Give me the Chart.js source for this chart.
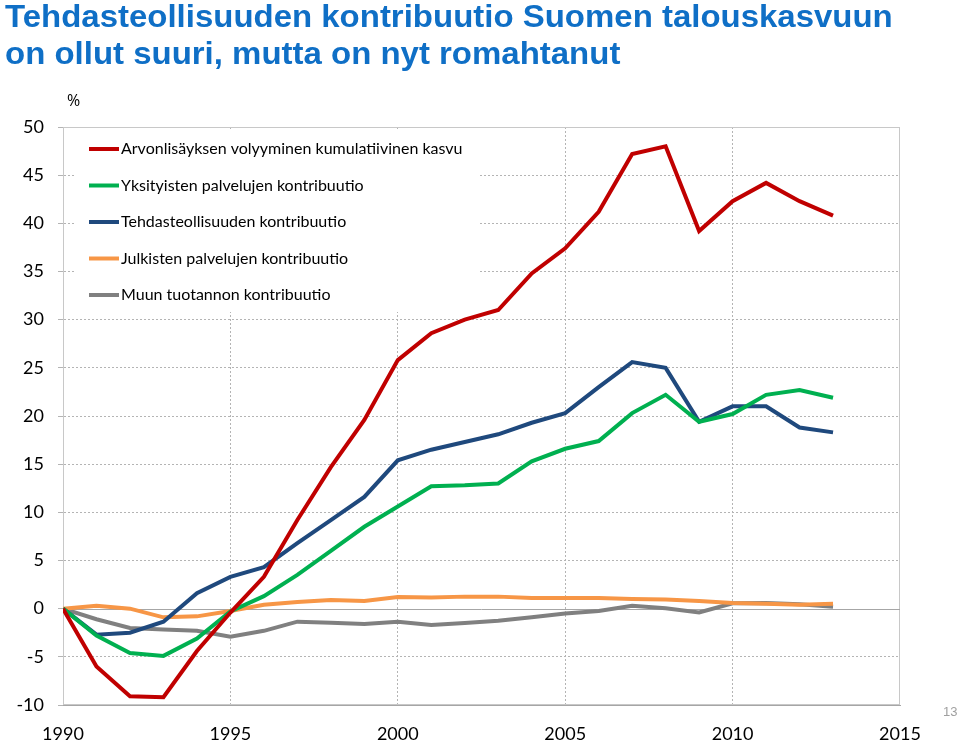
<!DOCTYPE html>
<html lang="fi">
<head>
    <meta charset="UTF-8">
    <title>Tehdasteollisuuden kontribuutio</title>
    <script src="https://cdn.jsdelivr.net/npm/chart.js"></script>
</head>
<style>
    body { margin: 0; background: #fff; }
    .page { position: relative; width: 960px; height: 741px; overflow: hidden; }
    .chart-container { position: absolute; left: 0; top: 0; width: 960px; height: 741px; }
    .title {
        position: absolute; left: 5px; top: -2px;
        font-family: "Liberation Sans", Arial, sans-serif; font-weight: bold;
        font-size: 31px; line-height: 37px; color: #0f6fc6;
        transform-origin: 0 0; white-space: nowrap;
    }
    .unit { position: absolute; left: 67px; top: 89px; font-family: "Open Sans", sans-serif; font-size: 16px; color: #000; }
    .pagenum { position: absolute; left: 943px; top: 704px; font-family: "Liberation Sans", Arial, sans-serif; font-size: 13px; color: #a0a0a0; }
</style>
<body>
    <div class="page">
        <div class="chart-container">
            <canvas id="lineChart"></canvas>
        </div>
        <div class="title" id="title">Tehdasteollisuuden kontribuutio Suomen talouskasvuun<br>on ollut suuri, mutta on nyt romahtanut</div>
        <div class="unit">%</div>
        <div class="pagenum">13</div>
    </div>

    <script>
        // vuodet
        const years = [1990, 1991, 1992, 1993, 1994, 1995, 1996, 1997, 1998, 1999, 2000, 2001,
                       2002, 2003, 2004, 2005, 2006, 2007, 2008, 2009, 2010, 2011, 2012, 2013];

        const seriesLabels = [
            'Arvonlisäyksen volyyminen kumulatiivinen kasvu',
            'Yksityisten palvelujen kontribuutio',
            'Tehdasteollisuuden kontribuutio',
            'Julkisten palvelujen kontribuutio',
            'Muun tuotannon kontribuutio'
        ];

        const arvonlisays = [0, -6.0, -9.1, -9.2, -4.4, -0.4, 3.3, 9.2, 14.7, 19.6, 25.8, 28.6,
                             30.0, 31.0, 34.8, 37.4, 41.2, 47.2, 48.0, 39.2, 42.3, 44.2, 42.3, 40.8];
        const yksityiset = [0, -2.8, -4.6, -4.9, -3.1, -0.3, 1.3, 3.5, 6.0, 8.5, 10.6, 12.7,
                            12.8, 13.0, 15.3, 16.6, 17.4, 20.3, 22.2, 19.4, 20.2, 22.2, 22.7, 21.9];
        const tehdas = [0, -2.7, -2.5, -1.35, 1.6, 3.3, 4.3, 6.8, 9.2, 11.6, 15.4, 16.5,
                        17.3, 18.1, 19.3, 20.3, 23.0, 25.6, 25.0, 19.4, 21.0, 21.0, 18.8, 18.3];
        const julkiset = [0, 0.3, 0.0, -0.9, -0.8, -0.25, 0.4, 0.7, 0.9, 0.8, 1.2, 1.15,
                          1.25, 1.25, 1.1, 1.1, 1.1, 1.0, 0.95, 0.8, 0.6, 0.5, 0.4, 0.5];
        const muu = [0, -1.1, -2.0, -2.15, -2.3, -2.9, -2.3, -1.35, -1.45, -1.6, -1.35, -1.7,
                     -1.5, -1.25, -0.9, -0.5, -0.25, 0.3, 0.05, -0.4, 0.55, 0.6, 0.45, 0.2];

        const yTicks = [-10, -5, 0, 5, 10, 15, 20, 25, 30, 35, 40, 45, 50];
        const xTicks = [1990, 1995, 2000, 2005, 2010, 2015];

        const colors = ['#c00000', '#00b050', '#1f497d', '#f79646', '#808080'];

        // otsikon leveys kuvan mukaan
        const titleEl = document.getElementById('title');
        titleEl.style.transform = 'scaleX(' + (888 / titleEl.scrollWidth) + ')';

        const allSeries = [arvonlisays, yksityiset, tehdas, julkiset, muu];
        const datasets = allSeries.map((vals, i) => ({
            label: seriesLabels[i],
            data: years.map((y, j) => ({x: y, y: vals[j]})),
            borderColor: colors[i],
            backgroundColor: colors[i],
            borderWidth: 4,
            pointRadius: 0,
            tension: 0,
            fill: false,
            order: i // punainen päällimmäisenä
        }));

        // kehys, nollaviiva ja selite kaavioalueen sisällä
        const insideLegend = {
            id: 'insideLegend',
            beforeDatasetsDraw(chart) {
                const {ctx, chartArea: a, scales} = chart;
                ctx.save();
                // valkoinen selitelaatikko
                ctx.fillStyle = '#fff';
                ctx.fillRect(a.left + 13, a.top + 3, 403, 182);
                // kehys
                ctx.strokeStyle = '#c8c8c8';
                ctx.lineWidth = 1;
                ctx.strokeRect(a.left + 0.5, a.top + 0.5, a.width - 1, a.height - 1);
                // nollaviiva
                const y0 = Math.round(scales.y.getPixelForValue(0)) + 0.5;
                ctx.strokeStyle = '#a6a6a6';
                ctx.beginPath();
                ctx.moveTo(a.left, y0);
                ctx.lineTo(a.right, y0);
                ctx.stroke();
                // selite
                ctx.font = '16px Lato, "Open Sans", sans-serif';
                ctx.textBaseline = 'middle';
                chart.data.datasets.forEach((ds, i) => {
                    const cy = a.top + 22 + i * 36.5;
                    ctx.strokeStyle = ds.borderColor;
                    ctx.lineWidth = 4;
                    ctx.beginPath();
                    ctx.moveTo(a.left + 26, cy);
                    ctx.lineTo(a.left + 56, cy);
                    ctx.stroke();
                    ctx.fillStyle = '#000';
                    ctx.fillText(ds.label, a.left + 58, cy);
                });
                ctx.restore();
            }
        };

        const ctx = document.getElementById('lineChart').getContext('2d');
        new Chart(ctx, {
            type: 'line',
            data: { datasets: datasets },
            options: {
                responsive: true,
                maintainAspectRatio: false,
                animation: false,
                layout: { padding: { top: 127, right: 60, left: 0, bottom: 0 } },
                plugins: {
                    legend: { display: false },
                    tooltip: { enabled: false }
                },
                scales: {
                    x: {
                        type: 'linear',
                        min: 1990,
                        max: 2015,
                        afterBuildTicks: (scale) => { scale.ticks = xTicks.map(v => ({value: v})); },
                        afterFit: (scale) => { scale.height = 36; },
                        ticks: {
                            color: '#000',
                            font: { family: 'Lato, "Open Sans", sans-serif', size: 18 },
                            padding: 18,
                            maxRotation: 0,
                            callback: (v) => String(v)
                        },
                        grid: {
                            color: (c) => (c.tick && (c.tick.value === 1990 || c.tick.value === 2015)) ? 'rgba(0,0,0,0)' : '#b4b4b4',
                            lineWidth: 1,
                            drawTicks: false
                        },
                        border: { display: true, color: '#a6a6a6', width: 1, dash: [2, 2] }
                    },
                    y: {
                        min: -10,
                        max: 50,
                        afterBuildTicks: (scale) => { scale.ticks = yTicks.map(v => ({value: v})); },
                        afterFit: (scale) => { scale.width = 63; },
                        ticks: {
                            color: '#000',
                            font: { family: 'Lato, "Open Sans", sans-serif', size: 18 },
                            padding: 14
                        },
                        grid: {
                            color: (c) => (c.tick && (c.tick.value === 0 || c.tick.value === -10 || c.tick.value === 50)) ? 'rgba(0,0,0,0)' : '#b4b4b4',
                            lineWidth: 1,
                            tickLength: 5,
                            tickColor: '#b4b4b4'
                        },
                        border: { display: true, color: '#a6a6a6', width: 1, dash: [2, 2] }
                    }
                }
            },
            plugins: [insideLegend]
        });
    </script>
</body>
</html>
